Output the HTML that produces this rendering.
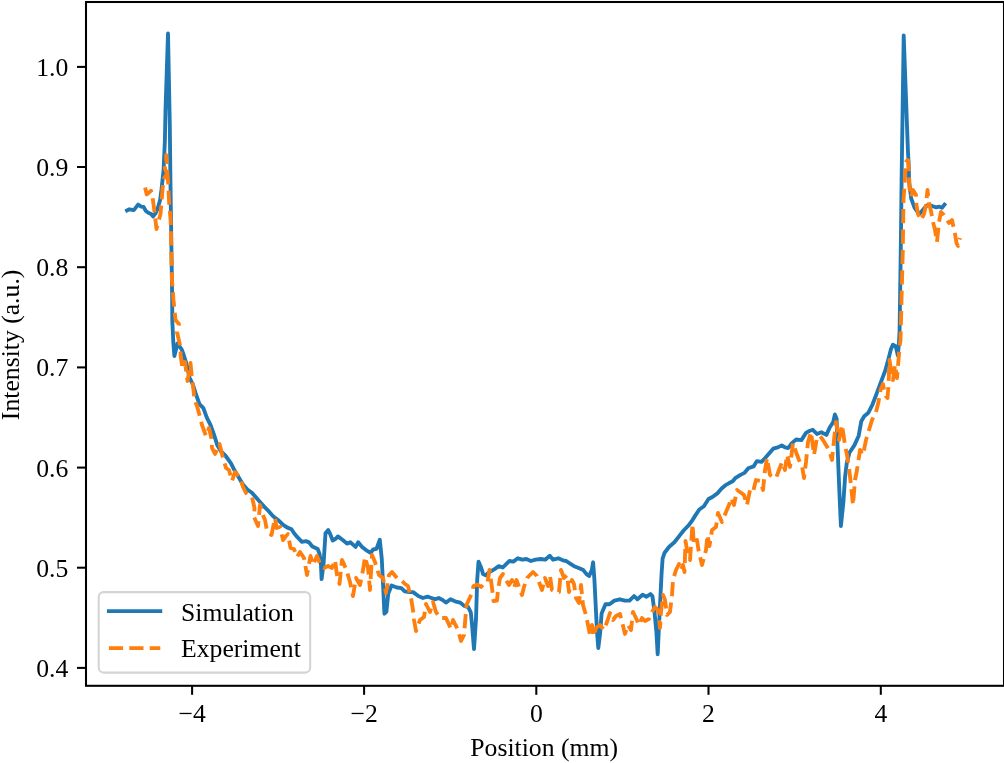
<!DOCTYPE html>
<html><head><meta charset="utf-8"><style>
html,body{margin:0;padding:0;background:#fff;overflow:hidden;}
svg{display:block;will-change:transform;}
text{font-family:"Liberation Serif",serif;font-size:25.7px;fill:#000;}
</style></head><body>
<svg width="1004" height="763" viewBox="0 0 1004 763">
<rect x="0" y="0" width="1004" height="763" fill="#fff"/>
<defs><clipPath id="c"><rect x="86" y="2" width="918" height="684"/></clipPath></defs>
<g clip-path="url(#c)" fill="none" stroke-linejoin="round">
<path d="M127.0,210.5 L129.4,209.3 L133.8,210.1 L138.1,204.6 L141.2,206.6 L143.6,207.0 L145.9,210.9 L148.3,212.8 L151.1,214.0 L153.0,216.4 L155.4,213.6 L157.7,208.5 L160.1,199.9 L161.5,189.5 L162.5,180.0 L163.6,170.0 L164.9,140.0 L165.5,110.0 L168.0,33.5 L169.8,124.8 L170.3,170.0 L171.0,220.0 L172.2,300.0 L172.3,321.0 L173.3,342.0 L174.4,356.0 L177.5,343.5 L181.8,349.7 L183.1,353.1 L186.4,363.6 L189.7,378.0 L192.9,384.6 L196.2,395.0 L199.5,404.2 L203.4,408.2 L206.7,417.3 L210.6,425.2 L213.9,434.4 L217.2,444.9 L221.1,451.5 L225.7,456.0 L231.0,463.3 L234.2,469.8 L238.2,476.4 L242.8,484.2 L247.4,489.5 L251.9,492.7 L255.9,497.3 L260.0,502.0 L263.9,506.4 L268.5,511.0 L273.1,516.2 L279.0,520.8 L282.9,524.7 L286.9,527.4 L291.5,529.3 L294.1,533.2 L297.4,537.2 L301.9,541.8 L305.9,541.1 L309.1,542.4 L312.4,546.4 L317.7,549.0 L319.6,554.2 L320.9,563.4 L321.6,579.1 L323.6,563.4 L325.5,533.2 L328.2,530.0 L330.1,533.9 L332.7,540.5 L336.0,538.5 L337.9,536.4 L343.1,540.3 L347.0,543.6 L350.3,542.3 L355.6,546.9 L358.2,542.3 L362.1,546.9 L366.0,550.1 L370.6,552.8 L373.2,549.5 L376.5,548.8 L379.8,539.7 L381.8,559.3 L383.1,585.5 L384.4,613.7 L386.4,611.7 L388.3,593.4 L391.6,585.5 L396.8,587.5 L401.4,588.2 L404.7,591.4 L409.2,592.1 L413.1,592.1 L418.3,596.0 L422.9,598.0 L427.5,596.7 L431.5,598.0 L435.4,599.3 L438.7,598.0 L442.6,600.0 L445.9,602.6 L450.5,599.3 L455.0,601.3 L460.3,602.6 L464.2,605.9 L468.2,607.2 L470.8,612.4 L472.1,625.5 L474.0,649.1 L476.0,619.0 L477.2,580.0 L478.5,561.6 L481.1,567.5 L483.1,574.1 L485.7,575.4 L488.3,572.8 L491.6,570.8 L494.9,568.8 L498.8,566.2 L502.8,567.5 L505.4,564.9 L509.3,561.0 L513.3,561.6 L517.8,558.3 L522.4,559.7 L526.4,559.0 L530.9,561.0 L535.5,559.7 L540.8,559.0 L545.2,559.7 L549.8,555.7 L553.1,559.7 L558.3,558.3 L562.9,560.3 L566.2,561.0 L570.1,563.6 L574.1,566.2 L579.3,568.2 L583.3,570.1 L586.5,574.1 L589.1,576.0 L591.8,570.1 L593.1,562.3 L594.4,579.3 L595.7,605.5 L597.0,631.7 L598.3,648.0 L600.3,631.7 L601.6,613.4 L605.5,604.2 L609.5,604.2 L614.4,600.6 L619.7,599.3 L624.9,600.6 L629.5,600.6 L634.1,596.0 L637.4,599.3 L642.6,594.7 L646.5,596.7 L650.5,594.1 L652.4,596.0 L654.4,611.1 L656.4,632.1 L657.7,654.4 L659.0,625.5 L660.3,599.3 L661.6,573.1 L662.6,558.6 L664.6,552.7 L669.2,546.8 L674.4,542.3 L679.0,536.4 L683.6,530.5 L688.8,525.2 L692.1,520.6 L695.4,515.4 L699.3,509.5 L703.9,506.2 L708.5,499.0 L712.4,497.0 L717.7,493.1 L721.6,488.5 L725.5,485.2 L728.8,483.3 L732.7,481.3 L735.2,478.2 L740.5,474.9 L744.4,472.9 L748.3,468.3 L753.6,466.4 L756.9,461.1 L761.5,461.8 L765.4,457.8 L769.3,453.2 L773.2,448.7 L777.8,447.4 L781.8,445.4 L785.0,447.4 L788.3,448.0 L791.6,443.4 L796.2,439.5 L801.4,440.1 L806.0,432.9 L809.3,431.0 L812.8,429.8 L817.0,434.0 L821.3,432.3 L826.4,434.9 L829.8,427.2 L833.2,422.1 L834.9,414.5 L836.6,418.7 L837.4,442.6 L839.1,485.1 L840.9,526.0 L843.4,502.1 L845.1,476.6 L846.8,463.0 L849.4,452.8 L854.5,445.1 L858.7,435.7 L861.3,421.2 L864.2,416.3 L868.4,412.7 L872.6,404.3 L876.8,393.1 L881.0,381.9 L885.2,370.7 L888.7,358.1 L890.8,349.6 L892.9,344.7 L895.7,346.1 L897.8,355.2 L898.9,344.0 L899.6,330.0 L900.9,240.0 L901.6,180.0 L903.7,35.5 L907.9,150.0 L908.6,163.1 L909.2,182.8 L911.2,198.5 L914.5,207.7 L919.1,214.2 L921.6,211.4 L924.2,208.3 L927.3,205.2 L931.5,205.7 L935.7,207.3 L939.4,206.7 L942.0,207.8 L944.5,204.6" stroke="#1f77b4" stroke-width="3.85" stroke-linecap="square"/>
<path d="M145.1,187.5 L146.7,194.4 L151.0,190.8 L152.5,197.0 L154.0,208.0 L156.5,229.0 L160.5,214.0 L162.0,196.0 L163.0,184.0 L164.2,178.0 L167.0,174.0 L164.8,168.0 L166.3,162.0 L166.2,155.0 L168.3,185.0 L169.0,200.0 L170.7,222.0 L171.5,260.0 L172.0,280.0 L173.5,300.0 L175.5,320.0 L179.0,324.0 L177.0,332.0 L180.2,346.0 L180.8,357.0 L182.5,369.0 L185.0,362.0 L187.5,381.0 L190.5,363.0 L192.0,379.0 L193.5,390.0 L194.5,400.0 L197.0,406.0 L200.0,417.0 L202.0,425.0 L206.0,436.0 L209.0,428.0 L211.3,438.0 L212.0,448.0 L215.0,454.0 L219.5,444.0 L222.5,456.0 L224.0,461.0 L226.0,468.0 L229.0,470.0 L232.0,481.0 L235.0,472.0 L240.0,478.0 L243.0,487.0 L246.0,493.0 L249.0,496.0 L252.0,497.0 L254.5,508.0 L254.0,517.0 L258.0,526.0 L260.0,505.0 L262.5,514.0 L265.0,520.0 L267.0,531.0 L271.5,535.0 L275.0,518.0 L276.5,528.0 L280.0,527.0 L283.0,540.0 L286.0,536.0 L288.0,534.0 L290.5,548.0 L294.0,549.0 L297.0,557.0 L300.0,552.0 L304.0,558.0 L307.0,575.0 L310.5,556.0 L313.0,565.0 L317.0,556.0 L321.0,566.0 L324.0,568.0 L328.0,566.0 L332.0,568.0 L335.0,560.0 L337.0,575.0 L339.5,584.0 L342.0,560.0 L344.0,564.0 L347.0,572.0 L350.0,582.0 L353.0,596.0 L356.0,578.0 L360.0,585.0 L363.0,570.0 L365.0,557.0 L368.0,568.0 L370.0,590.0 L372.0,555.0 L375.0,562.0 L379.0,575.0 L383.0,578.0 L386.0,593.0 L389.0,575.0 L392.0,572.0 L397.0,578.0 L401.0,580.0 L405.0,584.0 L408.0,586.0 L411.0,598.0 L413.0,610.0 L414.0,620.0 L416.0,631.0 L420.0,620.0 L424.0,617.0 L426.0,604.0 L430.0,612.0 L433.0,602.0 L436.0,612.0 L440.0,618.0 L446.0,618.0 L451.0,629.0 L453.0,620.0 L458.0,630.0 L461.0,641.0 L464.0,635.0 L466.5,605.0 L471.5,594.0 L473.5,586.0 L477.5,584.5 L481.0,587.0 L484.0,583.5 L487.5,582.0 L489.5,570.0 L491.5,584.0 L492.5,592.0 L493.5,601.0 L497.0,600.5 L498.0,590.0 L500.0,578.0 L503.0,574.0 L506.0,580.0 L509.0,585.0 L512.0,580.0 L514.0,588.0 L516.5,580.0 L519.0,587.0 L522.0,595.0 L524.0,587.0 L527.0,578.0 L530.0,575.0 L533.0,572.0 L537.0,576.0 L539.0,582.0 L542.0,590.0 L545.0,578.0 L548.0,586.0 L550.0,576.0 L552.0,590.0 L556.0,592.0 L559.0,592.0 L561.0,570.0 L564.0,578.0 L567.0,575.0 L569.0,592.0 L572.0,580.0 L574.0,584.0 L576.0,598.0 L579.0,603.0 L581.0,585.0 L583.0,605.0 L586.0,615.0 L588.0,625.0 L590.0,635.0 L592.0,625.0 L594.0,636.0 L596.0,628.0 L600.0,625.0 L604.0,630.0 L607.0,622.0 L610.0,613.0 L613.0,620.0 L616.0,616.0 L620.0,614.0 L622.0,622.0 L625.0,634.0 L628.0,625.0 L631.0,630.0 L633.0,612.0 L636.0,618.0 L639.0,625.0 L642.0,618.0 L645.0,621.0 L649.0,619.0 L652.0,612.0 L655.0,607.0 L658.0,610.0 L660.0,628.0 L661.0,612.0 L663.0,595.0 L665.0,600.0 L667.0,615.0 L670.0,612.0 L672.0,595.0 L673.0,580.0 L676.0,570.0 L679.0,564.0 L681.0,570.0 L683.0,565.0 L684.5,572.0 L685.5,541.0 L688.0,556.0 L690.0,560.0 L692.5,524.0 L694.0,545.0 L697.0,540.0 L698.5,550.0 L702.0,565.0 L706.0,550.0 L707.5,535.0 L709.5,546.0 L712.0,530.0 L716.0,527.0 L718.0,513.0 L722.0,522.0 L726.0,512.0 L729.0,505.0 L731.0,498.0 L734.0,505.0 L737.0,490.0 L740.0,492.0 L744.0,495.0 L747.0,505.0 L750.0,490.0 L753.0,492.0 L756.0,480.0 L760.0,481.0 L763.0,490.0 L765.0,470.0 L767.0,458.0 L770.0,475.0 L773.0,477.0 L776.0,478.0 L779.0,470.0 L782.0,462.0 L785.0,470.0 L787.0,455.0 L790.0,467.0 L793.0,443.0 L796.0,452.0 L799.0,460.0 L802.0,466.0 L804.0,478.0 L806.0,462.0 L808.0,442.0 L811.0,432.0 L814.0,455.0 L817.0,438.0 L820.0,436.0 L823.0,440.0 L826.0,445.0 L829.0,450.0 L832.0,460.0 L834.0,440.0 L836.0,422.0 L839.0,440.0 L842.0,425.0 L845.0,445.0 L847.0,455.0 L849.0,468.0 L851.0,485.0 L853.0,505.0 L855.0,480.0 L857.0,470.0 L860.0,450.0 L863.0,455.0 L866.0,440.0 L869.0,430.0 L872.0,420.0 L876.0,412.0 L878.5,402.0 L880.5,390.0 L883.0,384.0 L885.0,395.0 L887.5,398.0 L888.5,385.0 L889.5,360.0 L891.0,370.0 L893.0,380.0 L895.0,365.0 L897.0,378.0 L898.5,360.0 L899.5,348.0 L900.5,340.0 L901.5,300.0 L902.8,250.0 L903.5,200.0 L904.5,185.0 L905.5,170.0 L906.5,161.0 L908.0,160.0 L909.0,172.0 L909.5,188.0 L911.0,197.0 L913.0,190.0 L916.0,195.0 L916.5,205.0 L918.0,214.0 L921.0,220.0 L924.0,214.0 L926.0,205.0 L927.5,190.0 L929.0,203.0 L931.0,211.0 L933.0,222.0 L935.0,230.0 L937.0,242.0 L939.0,222.0 L941.0,212.0 L944.0,215.0 L946.0,218.0 L949.0,223.0 L952.0,220.0 L955.0,234.0 L956.5,243.0 L958.0,246.0 L960.0,238.0" stroke="#ff7f0e" stroke-width="3.85" stroke-dasharray="14.2 6.2" stroke-linecap="butt"/>
</g>
<g stroke="#000" stroke-width="2.05" fill="none">
<rect x="86" y="2" width="918" height="683.8" stroke-linejoin="miter"/>
<line x1="77" y1="66.9" x2="86" y2="66.9"/>
<line x1="77" y1="167.0" x2="86" y2="167.0"/>
<line x1="77" y1="267.2" x2="86" y2="267.2"/>
<line x1="77" y1="367.4" x2="86" y2="367.4"/>
<line x1="77" y1="467.6" x2="86" y2="467.6"/>
<line x1="77" y1="567.7" x2="86" y2="567.7"/>
<line x1="77" y1="667.9" x2="86" y2="667.9"/>
<line x1="192.1" y1="685.8" x2="192.1" y2="694.8"/>
<line x1="364.1" y1="685.8" x2="364.1" y2="694.8"/>
<line x1="536.3" y1="685.8" x2="536.3" y2="694.8"/>
<line x1="708.5" y1="685.8" x2="708.5" y2="694.8"/>
<line x1="880.8" y1="685.8" x2="880.8" y2="694.8"/>
</g>
<text x="68.3" y="75.9" text-anchor="end">1.0</text>
<text x="68.3" y="176.0" text-anchor="end">0.9</text>
<text x="68.3" y="276.2" text-anchor="end">0.8</text>
<text x="68.3" y="376.4" text-anchor="end">0.7</text>
<text x="68.3" y="476.6" text-anchor="end">0.6</text>
<text x="68.3" y="576.7" text-anchor="end">0.5</text>
<text x="68.3" y="676.9" text-anchor="end">0.4</text>
<text x="192.1" y="722.0" text-anchor="middle">−4</text>
<text x="364.1" y="722.0" text-anchor="middle">−2</text>
<text x="536.3" y="722.0" text-anchor="middle">0</text>
<text x="708.5" y="722.0" text-anchor="middle">2</text>
<text x="880.8" y="722.0" text-anchor="middle">4</text>
<text x="544.2" y="756.3" text-anchor="middle">Position (mm)</text>
<text transform="translate(19.3,344.9) rotate(-90)" text-anchor="middle">Intensity (a.u.)</text>
<rect x="98.7" y="592.1" width="211.5" height="80.5" rx="5" ry="5" fill="#fff" fill-opacity="0.8" stroke="#d4d4d4" stroke-width="2.05"/>
<line x1="108.9" y1="611.1" x2="160.3" y2="611.1" stroke="#1f77b4" stroke-width="3.85" stroke-linecap="square"/>
<line x1="108.9" y1="648.1" x2="160.3" y2="648.1" stroke="#ff7f0e" stroke-width="3.85" stroke-dasharray="14.2 6.2"/>
<text x="181" y="620.6">Simulation</text>
<text x="181" y="657.0">Experiment</text>
</svg>
</body></html>
